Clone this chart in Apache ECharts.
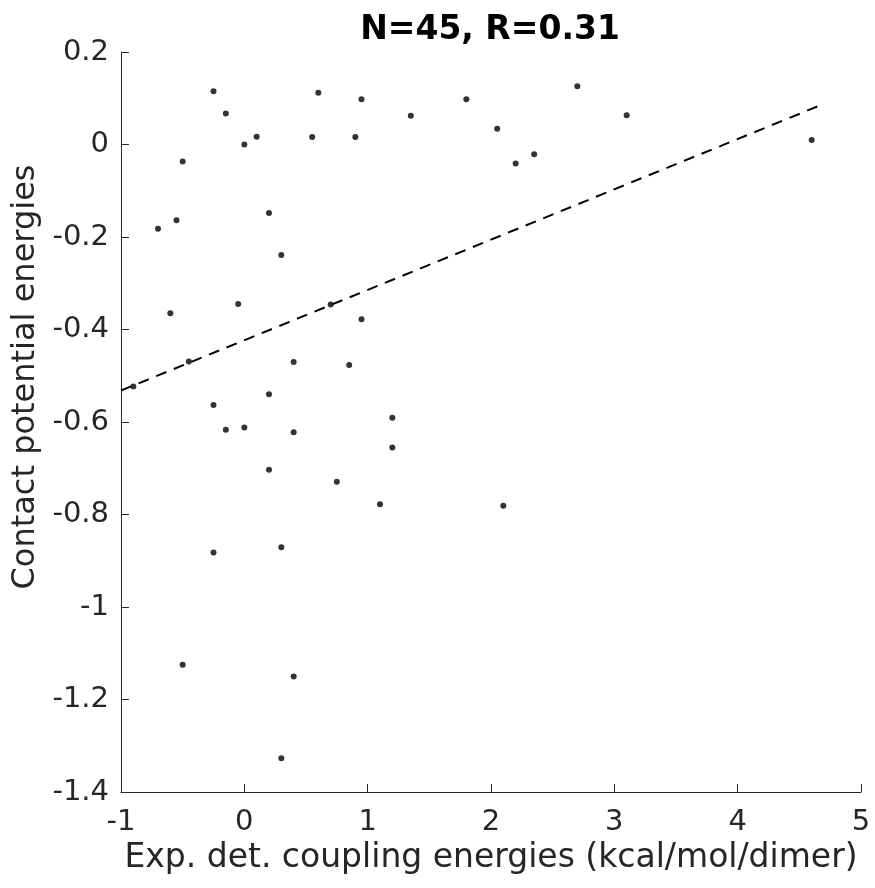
<!DOCTYPE html>
<html>
<head>
<meta charset="utf-8">
<script src="https://cdn.jsdelivr.net/npm/echarts@6/dist/echarts.min.js"></script>
<style>html,body{margin:0;padding:0;background:#fff}#c{width:875px;height:888px}</style>
</head>
<body>
<div id="c"></div>
<script>
const titleText = 'N=45, R=0.31';
const xName = 'Exp. det. coupling energies (kcal/mol/dimer)';
const yName = 'Contact potential energies';
const xs = [-0.25,-0.15,0,0.1,-0.5,0.6,0.95,0.55,0.9,1.35,1.8,2.05,-0.7,-0.55,0.2,0.3,-0.6,-0.05,0.7,0.95,-0.45,0.4,0.85,2.7,3.1,2.2,2.35,4.6,-0.9,-0.25,0.2,-0.15,0,0.4,1.2,1.2,0.2,0.75,1.1,-0.25,0.3,2.1,-0.5,0.4,0.3];
const ys = [0.115,0.067,0,0.017,-0.037,0.112,0.098,0.016,0.016,0.062,0.098,0.034,-0.182,-0.164,-0.148,-0.239,-0.365,-0.345,-0.346,-0.378,-0.469,-0.47,-0.477,0.126,0.063,-0.041,-0.021,0.01,-0.523,-0.563,-0.54,-0.617,-0.612,-0.622,-0.591,-0.655,-0.703,-0.729,-0.778,-0.882,-0.871,-0.781,-1.125,-1.15,-1.327];
const fitX = [-1, 4.7];
const fitY = [-0.532, 0.088];

const font = 'DejaVu Sans';
const axisCol = '#262626';
const chart = echarts.init(document.getElementById('c'), null, {renderer:'canvas'});
chart.setOption({
  animation: false,
  backgroundColor: '#fff',
  title: {
    text: titleText, left: 485, textAlign: 'center', top: 9,
    textStyle: {fontFamily: font, fontSize: 33, fontWeight: 'bold', color: '#000'}
  },
  grid: {left: 121, right: 14, top: 52, bottom: 96, containLabel: false},
  xAxis: {
    type: 'value', min: -1, max: 5, interval: 1,
    name: xName, nameLocation: 'middle', nameGap: 50,
    nameTextStyle: {fontFamily: font, fontSize: 33, color: axisCol},
    axisLine: {show: true, onZero: false, lineStyle: {color: axisCol, width: 1}},
    axisTick: {show: true, inside: true, length: 8, lineStyle: {color: axisCol}},
    axisLabel: {fontFamily: font, fontSize: 29, color: axisCol, margin: 16},
    splitLine: {show: false}
  },
  yAxis: {
    type: 'value', min: -1.4, max: 0.2, interval: 0.2,
    name: yName, nameLocation: 'middle', nameGap: 77,
    nameTextStyle: {fontFamily: font, fontSize: 32, color: axisCol, padding: [0, 0, 0, 90]},
    axisLine: {show: true, onZero: false, lineStyle: {color: axisCol, width: 1}},
    axisTick: {show: true, inside: true, length: 8, lineStyle: {color: axisCol}},
    axisLabel: {fontFamily: font, fontSize: 29, color: axisCol, margin: 12,
      formatter: v => String(parseFloat(v.toFixed(1)))},
    splitLine: {show: false}
  },
  series: [
    {
      type: 'line', data: fitX.map((x, i) => [x, fitY[i]]),
      showSymbol: false, symbol: 'none',
      lineStyle: {color: '#000', width: 2, type: [11, 8]}, z: 2
    },
    {
      type: 'scatter', data: xs.map((x, i) => [x, ys[i]]),
      symbol: 'circle', symbolSize: 6,
      itemStyle: {color: '#000'}, z: 3
    }
  ]
});
</script>
</body>
</html>
